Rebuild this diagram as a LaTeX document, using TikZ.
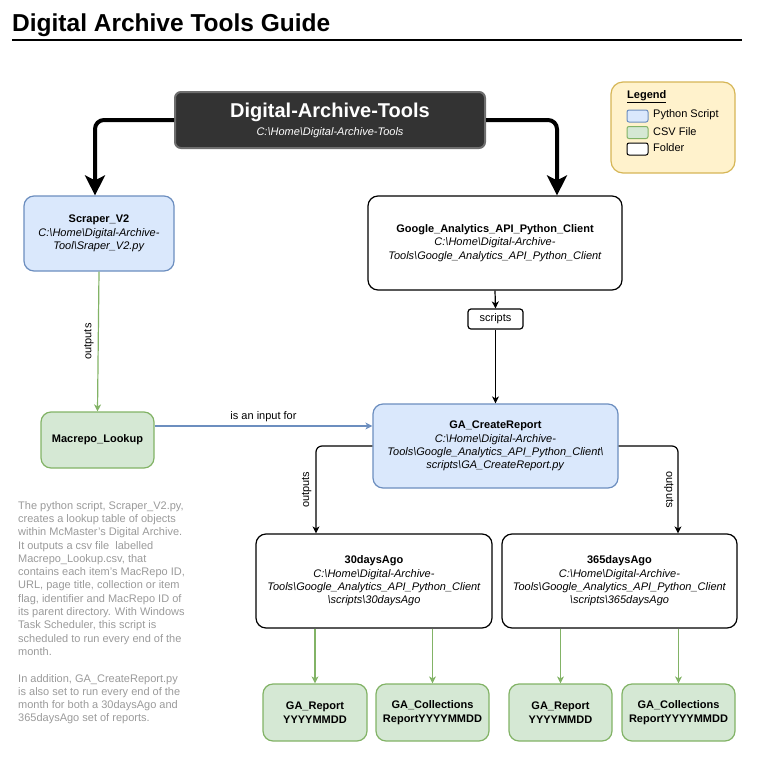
\documentclass[tikz,border=0pt]{standalone}
\usepackage{fontspec}
\setmainfont{Liberation Sans}
\usetikzlibrary{arrows.meta,calc}
\definecolor{bluef}{HTML}{DAE8FC}
\definecolor{blued}{HTML}{6C8EBF}
\definecolor{greenf}{HTML}{D5E8D4}
\definecolor{greend}{HTML}{82B366}
\definecolor{yellowf}{HTML}{FFF2CC}
\definecolor{yellowd}{HTML}{D6B656}
\definecolor{darkf}{HTML}{333333}
\definecolor{darkd}{HTML}{6E6E6E}
\definecolor{notegray}{HTML}{9A9A9A}
\newcommand{\bsl}{\textbackslash}
\newcommand{\fs}{\fontsize{11}{13.3}\selectfont}
\begin{document}
\begin{tikzpicture}[x=1pt,y=-1pt,
  box/.style={draw, line width=1.2pt, rounded corners=10pt, align=center, inner sep=0pt, font=\fs},
  pyscript/.style={box, fill=bluef, draw=blued},
  csvfile/.style={box, fill=greenf, draw=greend},
  folder/.style={box, fill=white, draw=black},
  swatch/.style={draw, line width=1pt, rounded corners=2pt, minimum width=21pt, minimum height=12pt, inner sep=0pt},
  lbl/.style={font=\fs, inner sep=0pt},
  thickarr/.style={line width=4pt, rounded corners=9pt, -{Stealth[length=20pt,width=20pt,inset=5pt]}},
  thinarr/.style={line width=1.2pt, rounded corners=6pt, -{Stealth[length=7pt,width=7pt,inset=2pt]}},
  greenarr/.style={thinarr, draw=greend},
  bluearr/.style={thinarr, draw=blued}]
\useasboundingbox (0,0) rectangle (756,764);
% title
\node[anchor=base west, inner sep=0pt, font=\fontsize{24.5}{28}\selectfont\bfseries] (title) at (12,31) {Digital Archive Tools Guide};
\draw[line width=2pt] (12,40) -- (742,40);
% main folder
\node[draw=darkd, fill=darkf, line width=2pt, rounded corners=6pt, minimum width=310pt, minimum height=56pt, inner sep=0pt, text=white, align=center] (main) at (330,120)
  {{\fontsize{20}{24}\selectfont\bfseries Digital-Archive-Tools}\\[5pt]{\fs\itshape C:\bsl Home\bsl Digital-Archive-Tools}};
% legend
\node[draw=yellowd, fill=yellowf, line width=1.2pt, rounded corners=12pt, minimum width=124pt, minimum height=91pt] (legend) at (673,127.5) {};
\node[lbl, anchor=west, font=\fs\bfseries] (legendt) at (627,97) {\underline{Legend}};
\node[swatch, fill=bluef, draw=blued] (sw1) at (637.5,116) {};
\node[swatch, fill=greenf, draw=greend] (sw2) at (637.5,132.5) {};
\node[swatch, fill=white, draw=black] (sw3) at (637.5,149) {};
\node[lbl, anchor=west] (lt1) at (653,115) {Python Script};
\node[lbl, anchor=west] (lt2) at (653,131.5) {CSV File};
\node[lbl, anchor=west] (lt3) at (653,148) {Folder};
% boxes
\node[pyscript, minimum width=150pt, minimum height=75pt] (scraper) at (99,233.5)
  {\textbf{Scraper\_V2}\\\textit{C:\bsl Home\bsl Digital-Archive-}\\\textit{Tool\bsl Sraper\_V2.py}};
\node[folder, minimum width=254pt, minimum height=94pt] (google) at (495,243)
  {\textbf{Google\_Analytics\_API\_Python\_Client}\\\textit{C:\bsl Home\bsl Digital-Archive-}\\\textit{Tools\bsl Google\_Analytics\_API\_Python\_Client}};
\node[folder, rounded corners=3pt, minimum width=55pt, minimum height=20pt] (scripts) at (495.5,319) {scripts};
\node[csvfile, minimum width=113pt, minimum height=56pt] (macrepo) at (97.5,440) {\textbf{Macrepo\_Lookup}};
\node[pyscript, minimum width=245pt, minimum height=84pt] (ga) at (495.5,446)
  {\textbf{GA\_CreateReport}\\\textit{C:\bsl Home\bsl Digital-Archive-}\\\textit{Tools\bsl Google\_Analytics\_API\_Python\_Client\bsl}\\\textit{scripts\bsl GA\_CreateReport.py}};
\node[folder, minimum width=236pt, minimum height=94pt] (d30) at (374,581)
  {\textbf{30daysAgo}\\\textit{C:\bsl Home\bsl Digital-Archive-}\\\textit{Tools\bsl Google\_Analytics\_API\_Python\_Client}\\\textit{\bsl scripts\bsl 30daysAgo}};
\node[folder, minimum width=235pt, minimum height=94pt] (d365) at (619.5,581)
  {\textbf{365daysAgo}\\\textit{C:\bsl Home\bsl Digital-Archive-}\\\textit{Tools\bsl Google\_Analytics\_API\_Python\_Client}\\\textit{\bsl scripts\bsl 365daysAgo}};
\node[csvfile, minimum width=104pt, minimum height=57pt] (r1) at (315,712.5) {\textbf{GA\_Report}\\\textbf{YYYYMMDD}};
\node[csvfile, minimum width=113pt, minimum height=57pt] (c1) at (432.5,712.5) {\textbf{GA\_Collections}\\\textbf{ReportYYYYMMDD}};
\node[csvfile, minimum width=103pt, minimum height=57pt] (r2) at (560.5,712.5) {\textbf{GA\_Report}\\\textbf{YYYYMMDD}};
\node[csvfile, minimum width=113pt, minimum height=57pt] (c2) at (678.5,712.5) {\textbf{GA\_Collections}\\\textbf{ReportYYYYMMDD}};
% note
\node[anchor=north west, inner sep=0pt, align=left, text=notegray, font=\fs] (note) at (18,501)
  {The python script, Scraper\_V2.py,\\creates a lookup table of objects\\within McMaster's Digital Archive.\\It outputs a csv file~ labelled\\Macrepo\_Lookup.csv, that\\contains each item's MacRepo ID,\\URL, page title, collection or item\\flag, identifier and MacRepo ID of\\its parent directory. With Windows\\Task Scheduler, this script is\\scheduled to run every end of the\\month.\\ \\In addition, GA\_CreateReport.py\\is also set to run every end of the\\month for both a 30daysAgo and\\365daysAgo set of reports.};
% connectors
\draw[thickarr] (main.west) -| ([xshift=-4pt]scraper.north);
\draw[thickarr] (main.east) -| ([xshift=62pt]google.north);
\draw[thinarr] (google.south) -- (scripts.north);
\draw[thinarr] (scripts.south) -- (ga.north);
\draw[greenarr] (scraper.south) -- node[lbl, rotate=90, anchor=south, inner sep=4pt] {outputs} (macrepo.north);
\draw[bluearr] ([yshift=14pt]macrepo.east) -- node[lbl, above, inner sep=4pt] {is an input for} ([yshift=20pt]ga.west);
\draw[thinarr] (ga.west) -| node[lbl, pos=0.75, rotate=90, anchor=south, inner sep=4pt] {outputs} ([xshift=-58pt]d30.north);
\draw[thinarr] (ga.east) -| node[lbl, pos=0.75, rotate=-90, anchor=north, inner sep=4pt] {outputs} ([xshift=58.5pt]d365.north);
\draw[greenarr] (r1.north |- d30.south) -- (r1.north);
\draw[greenarr] (c1.north |- d30.south) -- (c1.north);
\draw[greenarr] (r2.north |- d365.south) -- (r2.north);
\draw[greenarr] (c2.north |- d365.south) -- (c2.north);
\end{tikzpicture}
\end{document}
